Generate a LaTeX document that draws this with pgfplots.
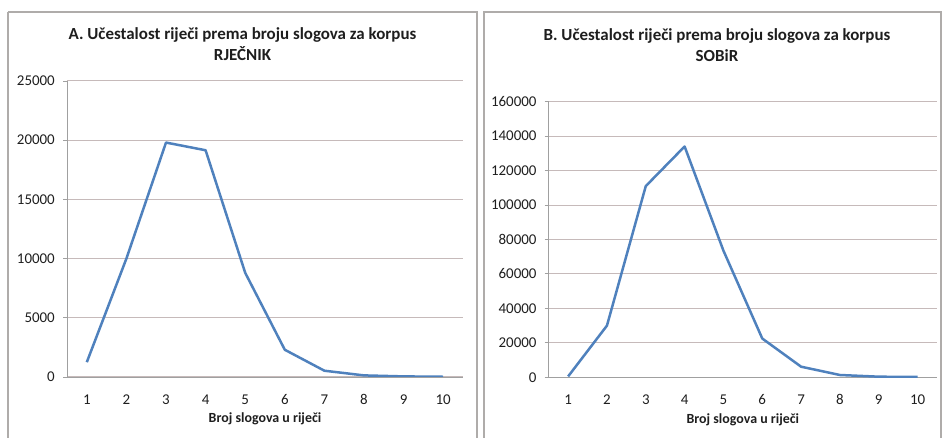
\documentclass[border=0pt]{standalone}
\usepackage{fontspec}
\setmainfont{Carlito}
\usepackage{pgfplots}
\pgfplotsset{compat=1.18}
\definecolor{lineblue}{HTML}{4F81BD}
\definecolor{gridc}{RGB}{198,186,186}
\definecolor{framec}{RGB}{175,172,170}
\definecolor{axc}{RGB}{160,160,160}
\definecolor{txt}{RGB}{30,30,30}
\pgfplotsset{
  mystyle/.style={
    scale only axis,
    anchor=south west,
    xmin=0.5, xmax=10.5, ymin=0,
    xtick={1,...,10},
    axis x line=bottom, axis y line=left,
    axis line style={-, draw=axc, line width=0.9bp},
    ymajorgrids,
    grid style={draw=gridc, line width=1bp},
    xtick style={draw=none},
    ytick style={draw=axc, line width=0.9bp},
    major tick length=4bp,
    tick align=outside,
    scaled y ticks=false,
    /pgf/number format/fixed,
    /pgf/number format/precision=0,
    /pgf/number format/assume math mode=true,
    /pgf/number format/set thousands separator={},
    ticklabel style={font=\fontsize{15}{17}\selectfont, text=txt},
    xticklabel style={anchor=center, yshift=-18.5bp},
    yticklabel style={anchor=east, inner sep=0pt, xshift=-8bp},
    xlabel={\textbf{Broj slogova u riječi}},
    xlabel style={font=\fontsize{14}{16}\selectfont, text=txt, at={(axis description cs:0.5,0)}, anchor=center, yshift=-42bp},
  },
  myplot/.style={lineblue, line width=2.5bp, no markers, line join=round},
}
\begin{document}
\begin{tikzpicture}[x=1bp,y=1bp]
\path[use as bounding box] (0,0) rectangle (944,438);
\draw[framec, line width=1.6bp] (8,426) -- (477,426) -- (477,-5);
\draw[framec, line width=1.6bp] (8,-5) -- (8,426);
\draw[framec, line width=1.6bp] (484,-5) -- (484,426) -- (941,426) -- (941,-5);
\node[font=\fontsize{17}{21}\selectfont\bfseries, text=txt, align=center] at (242.5,393.5) {A. Učestalost riječi prema broju slogova za korpus\\RJEČNIK};
\node[font=\fontsize{17}{21}\selectfont\bfseries, text=txt, align=center] at (717,393) {B. Učestalost riječi prema broju slogova za korpus\\SOBiR};
\begin{axis}[mystyle, at={(67bp,61bp)}, width=396bp, height=296bp, ymax=25000, ytick={0,5000,10000,15000,20000,25000}]
\addplot[myplot] coordinates {(1,1250) (2,10000) (3,19800) (4,19150) (5,8800) (6,2300) (7,530) (8,135) (9,50) (10,20)};
\end{axis}
\begin{axis}[mystyle, at={(548.7bp,60.7bp)}, width=388.3bp, height=275.6bp, ymax=160000, ytick={0,20000,40000,60000,80000,100000,120000,140000,160000}]
\addplot[myplot] coordinates {(1,500) (2,30000) (3,111000) (4,134000) (5,73500) (6,22500) (7,6150) (8,1330) (9,350) (10,180)};
\end{axis}
\end{tikzpicture}
\end{document}
